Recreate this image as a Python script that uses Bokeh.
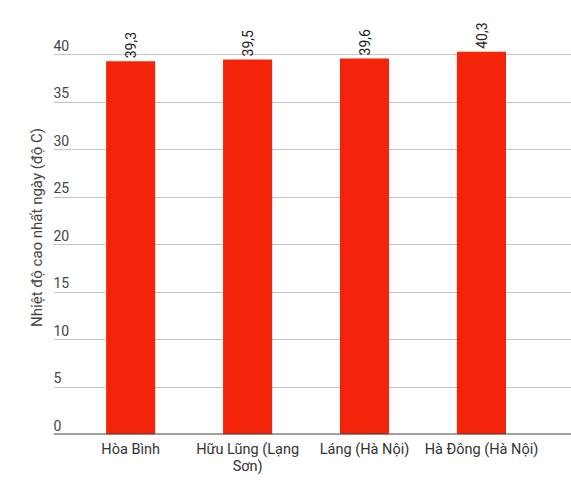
from bokeh.plotting import figure
from bokeh.models import ColumnDataSource, FixedTicker, Span, Range1d
from bokeh.core.properties import value
from bokeh.embed import file_html
from bokeh.resources import INLINE

# Station names and daily maximum temperatures (°C)
stations = ["Hòa Bình", "Hữu Lũng (Lạng\nSơn)", "Láng (Hà Nội)", "Hà Đông (Hà Nội)"]
temps = [39.3, 39.5, 39.6, 40.3]
temp_labels = ["39,3", "39,5", "39,6", "40,3"]
y_ticks = [0, 5, 10, 15, 20, 25, 30, 35, 40]

FONT = "Roboto"
BAR_COLOR = "#f3240a"

xs = list(range(len(stations)))
x0, x1 = -0.66, 3.77

p = figure(width=571, height=485, output_backend="svg", toolbar_location=None,
           x_range=Range1d(x0, x1), y_range=Range1d(0, 43.6),
           min_border_left=53, min_border_right=0, min_border_top=20, min_border_bottom=51)
p.outline_line_color = None
p.background_fill_color = "white"
p.border_fill_color = "white"

# gridlines (baseline is drawn separately)
p.xgrid.visible = False
p.ygrid.ticker = FixedTicker(ticks=[t for t in y_ticks if t > 0])
p.ygrid.grid_line_color = "#c4c4c4"
p.ygrid.grid_line_width = 1

# bars
src = ColumnDataSource(dict(x=xs, top=temps, lab=temp_labels))
p.vbar(x="x", top="top", bottom=0, width=0.42, source=src,
       fill_color=BAR_COLOR, line_color=BAR_COLOR, line_width=0)

# baseline
p.add_layout(Span(location=0, dimension="width", line_color="#444444", line_width=2))

# value labels, rotated, just above each bar
p.text(x="x", y="top", text="lab", source=src, angle=1.5708,
       text_align="left", text_baseline="middle", x_offset=0, y_offset=-3,
       text_font=value(FONT), text_font_size="14px", text_color="#222222")

# y tick labels sitting above the gridlines at the left edge
ysrc = ColumnDataSource(dict(x=[x0] * len(y_ticks), y=y_ticks, t=[str(v) for v in y_ticks]))
p.text(x="x", y="y", text="t", source=ysrc, text_align="left", text_baseline="bottom",
       x_offset=0, y_offset=-4, text_font=value(FONT), text_font_size="14px",
       text_color="#444444")

# x axis: category names only
p.xaxis.ticker = FixedTicker(ticks=xs)
p.xaxis.major_label_overrides = {i: s for i, s in zip(xs, stations)}
p.xaxis.axis_line_color = None
p.xaxis.major_tick_line_color = None
p.xaxis.minor_tick_line_color = None
p.xaxis.major_label_standoff = 0
p.xaxis.major_label_text_font = FONT
p.xaxis.major_label_text_font_size = "14.5px"
p.xaxis.major_label_text_color = "#333333"
p.xaxis.major_label_text_line_height = 1.0

# y axis: title only
p.yaxis.ticker = FixedTicker(ticks=[])
p.yaxis.axis_line_color = None
p.yaxis.major_tick_line_color = None
p.yaxis.minor_tick_line_color = None
p.yaxis.axis_label = "Nhiệt độ cao nhất ngày (độ C)"
p.yaxis.axis_label_text_font = FONT
p.yaxis.axis_label_text_font_size = "15px"
p.yaxis.axis_label_text_font_style = "normal"
p.yaxis.axis_label_text_color = "#444444"
p.yaxis.axis_label_standoff = 8

open("out.html", "w").write(file_html(p, INLINE))
